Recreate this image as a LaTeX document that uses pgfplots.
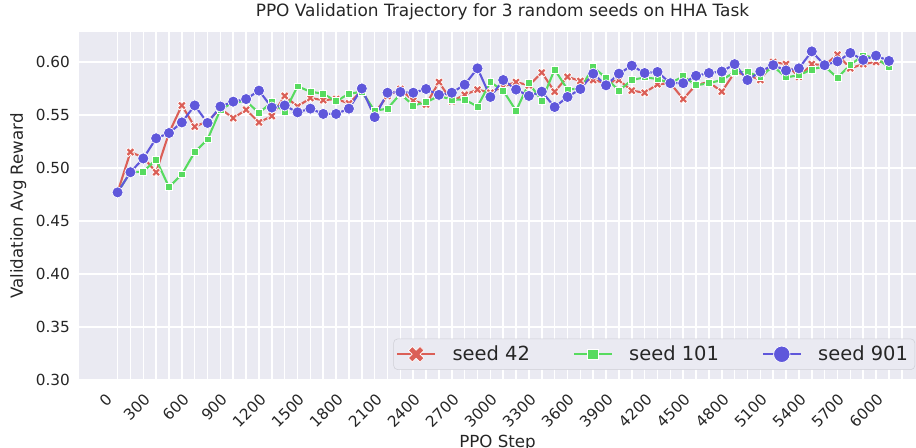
\documentclass[border=0pt]{standalone}
\usepackage{pgfplots}
\usepackage{pgfplotstable}
\pgfplotsset{compat=1.18}
\usepackage{fontspec}
\setmainfont{DejaVu Sans}
\definecolor{sred}{HTML}{DB5F57}
\definecolor{sgreen}{HTML}{57DB5F}
\definecolor{sblue}{HTML}{5F57DB}
\definecolor{bg}{HTML}{EAEAF2}
\definecolor{txt}{HTML}{262626}
\definecolor{lframe}{HTML}{CFCFD6}

\pgfdeclareplotmark{bigX}{%
  \pgfpathmoveto{\pgfqpoint{-0.46\pgfplotmarksize}{0.955\pgfplotmarksize}}%
  \pgfpathlineto{\pgfqpoint{-0.955\pgfplotmarksize}{0.46\pgfplotmarksize}}%
  \pgfpathlineto{\pgfqpoint{-0.495\pgfplotmarksize}{0pt}}%
  \pgfpathlineto{\pgfqpoint{-0.955\pgfplotmarksize}{-0.46\pgfplotmarksize}}%
  \pgfpathlineto{\pgfqpoint{-0.46\pgfplotmarksize}{-0.955\pgfplotmarksize}}%
  \pgfpathlineto{\pgfqpoint{0pt}{-0.495\pgfplotmarksize}}%
  \pgfpathlineto{\pgfqpoint{0.46\pgfplotmarksize}{-0.955\pgfplotmarksize}}%
  \pgfpathlineto{\pgfqpoint{0.955\pgfplotmarksize}{-0.46\pgfplotmarksize}}%
  \pgfpathlineto{\pgfqpoint{0.495\pgfplotmarksize}{0pt}}%
  \pgfpathlineto{\pgfqpoint{0.955\pgfplotmarksize}{0.46\pgfplotmarksize}}%
  \pgfpathlineto{\pgfqpoint{0.46\pgfplotmarksize}{0.955\pgfplotmarksize}}%
  \pgfpathlineto{\pgfqpoint{0pt}{0.495\pgfplotmarksize}}%
  \pgfpathclose
  \pgfusepathqfillstroke
}

\pgfplotsset{
  legbig/.style={legend image code/.code={\draw[##1, mark size=5.9pt, mark repeat=2, mark phase=2] plot coordinates {(0pt,0pt) (13.5pt,0pt) (27pt,0pt)};}},
  legsq/.style={legend image code/.code={\draw[##1, mark size=3.7pt, mark repeat=2, mark phase=2] plot coordinates {(0pt,0pt) (13.5pt,0pt) (27pt,0pt)};}},
}

\pgfplotstableread{
step r g b
0 0.477 0.477 0.477
100 0.515 0.496 0.496
200 0.510 0.4965 0.509
300 0.496 0.508 0.528
400 0.533 0.482 0.533
500 0.559 0.494 0.543
600 0.539 0.515 0.559
700 0.544 0.527 0.5425
800 0.556 0.555 0.558
900 0.547 0.562 0.5626
1000 0.555 0.563 0.565
1100 0.543 0.552 0.573
1200 0.549 0.562 0.557
1300 0.568 0.553 0.559
1400 0.558 0.577 0.5525
1500 0.566 0.572 0.556
1600 0.564 0.570 0.551
1700 0.565 0.563 0.551
1800 0.561 0.570 0.556
1900 0.573 0.572 0.575
2000 0.552 0.554 0.548
2100 0.568 0.556 0.571
2200 0.5745 0.570 0.5717
2300 0.5635 0.559 0.571
2400 0.560 0.562 0.5745
2500 0.581 0.568 0.569
2600 0.563 0.5645 0.571
2700 0.569 0.5645 0.5786
2800 0.574 0.558 0.594
2900 0.571 0.581 0.567
3000 0.577 0.573 0.583
3100 0.581 0.554 0.574
3200 0.578 0.580 0.568
3300 0.590 0.5635 0.572
3400 0.572 0.593 0.5575
3500 0.586 0.574 0.567
3600 0.582 0.575 0.5745
3700 0.583 0.595 0.589
3800 0.580 0.585 0.578
3900 0.583 0.573 0.589
4000 0.573 0.583 0.5965
4100 0.571 0.5855 0.5896
4200 0.579 0.584 0.5906
4300 0.580 0.580 0.580
4400 0.565 0.5865 0.580
4500 0.5785 0.578 0.587
4600 0.581 0.580 0.5896
4700 0.572 0.583 0.591
4800 0.590 0.5905 0.598
4900 0.588 0.5905 0.583
5000 0.583 0.586 0.591
5100 0.600 0.596 0.597
5200 0.598 0.5855 0.592
5300 0.586 0.5875 0.594
5400 0.598 0.593 0.610
5500 0.597 0.596 0.597
5600 0.607 0.585 0.6006
5700 0.594 0.5975 0.6085
5800 0.598 0.606 0.602
5900 0.600 0.604 0.606
6000 0.600 0.595 0.601
}\datatab

\begin{document}
\begin{tikzpicture}
\begin{axis}[name=ax, scale only axis,
  width=602.64pt, height=250.56pt,
  xmin=-300, xmax=6211, ymin=0.30, ymax=0.6283,
  axis background/.style={fill=bg},
  axis line style={draw=none},
  major tick length=0pt, minor tick length=0pt,
  xtick={0,300,600,900,1200,1500,1800,2100,2400,2700,3000,3300,3600,3900,4200,4500,4800,5100,5400,5700,6000},
  xticklabels={0,300,600,900,1200,1500,1800,2100,2400,2700,3000,3300,3600,3900,4200,4500,4800,5100,5400,5700,6000},
  minor xtick={100,200,400,500,700,800,1000,1100,1300,1400,1600,1700,1900,2000,2200,2300,2500,2600,2800,2900,3100,3200,3400,3500,3700,3800,4000,4100,4300,4400,4600,4700,4900,5000,5200,5300,5500,5600,5800,5900,6100},
  ytick={0.30,0.35,0.40,0.45,0.50,0.55,0.60},
  yticklabels={0.30,0.35,0.40,0.45,0.50,0.55,0.60},
  grid=both,
  major grid style={white, line width=1.1pt},
  minor grid style={white, line width=1.1pt},
  tick label style={font=\fontsize{11}{13}\selectfont, text=txt},
  xticklabel style={xshift=-2.9pt, yshift=-15.2pt, rotate=45, anchor=south east, inner sep=0pt},
  yticklabel style={xshift=-3pt},
  title={PPO Validation Trajectory for 3 random seeds on HHA Task},
  title style={font=\fontsize{12.2}{14}\selectfont, text=txt, xshift=3.6pt, yshift=-1pt},
  xlabel={PPO Step}, ylabel={Validation Avg Reward},
  label style={font=\fontsize{12}{14}\selectfont, text=txt},
  xlabel style={at={(axis description cs:0.5,0)}, anchor=north, inner sep=0pt, yshift=-39.5pt},
  legend columns=3,
  legend cell align=left,
  legend style={at={(0.999,0.029)}, anchor=south east, fill=bg, draw=lframe,
    rounded corners=3pt, font=\fontsize{14}{17}\selectfont, text=txt,
    inner xsep=2pt, inner ysep=2pt,
    /tikz/every odd column/.append style={column sep=9pt},
    /tikz/every even column/.append style={column sep=28pt},
    nodes={inner sep=3pt}},
]
\addplot[sred, line width=1.5pt, mark=bigX, mark size=3.3pt,
  mark options={fill=sred, draw=white, line width=0.5pt}, legbig]
  table[x=step, y=r] {\datatab};
\addlegendentry{seed 42}
\addplot[sgreen, line width=1.5pt, mark=square*, mark size=2.5pt,
  mark options={fill=sgreen, draw=white, line width=0.5pt}, legsq]
  table[x=step, y=g] {\datatab};
\addlegendentry{seed 101}
\addplot[sblue, line width=1.5pt, mark=*, mark size=4pt,
  mark options={fill=sblue, draw=white, line width=0.5pt}, legbig]
  table[x=step, y=b] {\datatab};
\addlegendentry{seed 901}
\end{axis}
\pgfresetboundingbox
\path ([xshift=-56.88pt,yshift=-48.96pt]ax.south west) rectangle ([yshift=23.04pt]ax.north east);
\end{tikzpicture}
\end{document}
